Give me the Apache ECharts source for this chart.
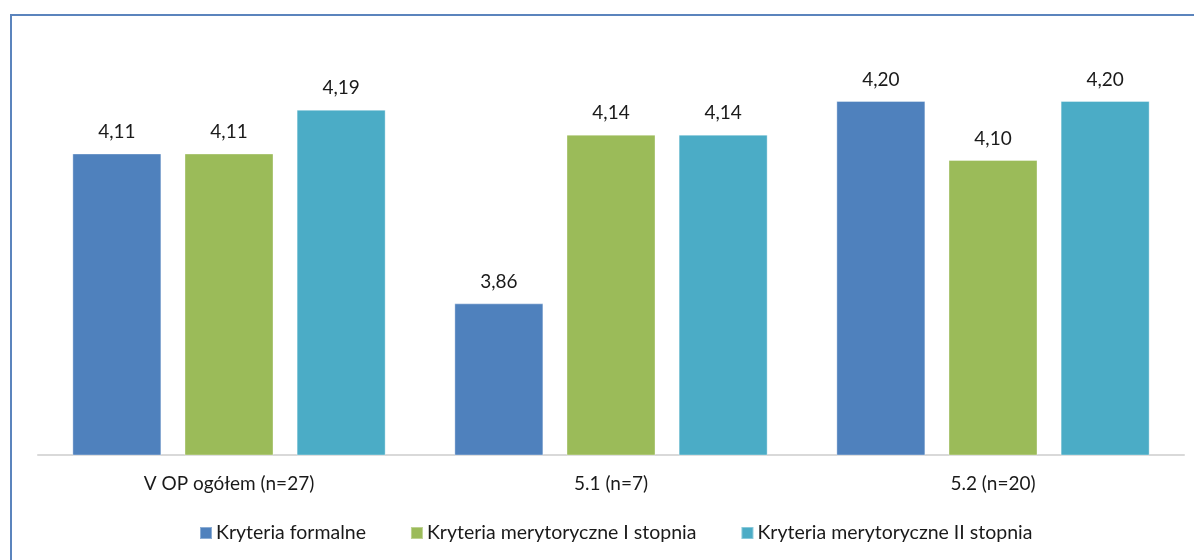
<!DOCTYPE html>
<html><head><meta charset="utf-8">
<script src="https://cdn.jsdelivr.net/npm/echarts@6/dist/echarts.min.js"></script>
<style>html,body{margin:0;padding:0;background:#fff;}#wrap{position:absolute;left:10px;top:14px;width:1200px;height:560px;border:2px solid #5b84bd;box-sizing:border-box;}#c{position:absolute;left:0;top:0;width:1194px;height:560px;}</style>
</head><body><div id="wrap"></div><div id="c"></div>
<script>
var categories = ['V OP ogółem (n=27)', '5.1 (n=7)', '5.2 (n=20)'];
var seriesNames = ['Kryteria formalne', 'Kryteria merytoryczne I stopnia', 'Kryteria merytoryczne II stopnia'];
var formalne = [4.111, 3.857, 4.200];
var merytI = [4.111, 4.143, 4.100];
var merytII = [4.1852, 4.143, 4.200];
var colors = ['#4F81BD', '#9BBB59', '#4BACC6'];
var font = 'Lato, "Open Sans", sans-serif';
var chart = echarts.init(document.getElementById('c'));
function mk(name, data, color) {
  return {
    name: name, type: 'bar', data: data, barWidth: 89, barGap: '26%',
    itemStyle: { color: color, borderColor: 'rgba(255,255,255,0.35)', borderWidth: 1 },
    label: { show: true, position: 'top', distance: 12, color: '#1a1a1a', fontSize: 19, fontFamily: font,
      formatter: function (p) { return p.value.toFixed(2).replace('.', ','); } }
  };
}
chart.setOption({
  animation: false,
  color: colors,
  grid: { left: 38, right: 10, top: 42, bottom: 105 },
  legend: {
    top: 518, left: 194, itemWidth: 12, itemHeight: 12, itemGap: 44, icon: 'rect',
    textStyle: { fontSize: 19.5, color: '#1a1a1a', fontFamily: font, padding: [0, 0, 0, -1] },
    data: seriesNames
  },
  xAxis: {
    type: 'category', data: categories,
    axisLine: { lineStyle: { color: '#d9d9d9', width: 2 } },
    axisTick: { show: false },
    axisLabel: { fontSize: 19, color: '#1a1a1a', fontFamily: font, margin: 19 }
  },
  yAxis: { type: 'value', min: 3.6, max: 4.3, show: false, splitLine: { show: false } },
  series: [mk(seriesNames[0], formalne, colors[0]), mk(seriesNames[1], merytI, colors[1]), mk(seriesNames[2], merytII, colors[2])]
});
</script></body></html>
